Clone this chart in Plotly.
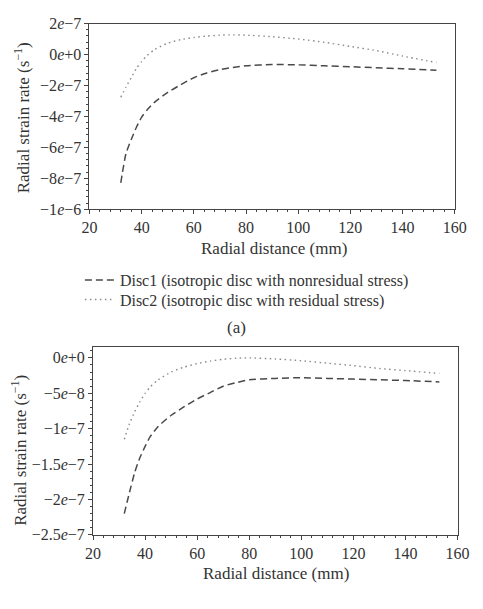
import plotly.graph_objects as go

# ---------------- data ----------------
radius_mm = [32, 34, 36, 38, 40, 42, 45, 50, 55, 60, 65, 70, 75, 80, 90, 100, 110, 120, 130, 140, 153]

a_disc1 = [-8.29e-7, -6.4e-7, -5.5e-7, -4.7e-7, -4.05e-7, -3.6e-7, -3.08e-7, -2.45e-7, -1.95e-7,
           -1.5e-7, -1.19e-7, -9.8e-8, -8.4e-8, -7.3e-8, -6.5e-8, -6.7e-8, -7.3e-8, -7.9e-8,
           -8.6e-8, -9.2e-8, -1.02e-7]
a_disc2 = [-2.76e-7, -2.1e-7, -1.5e-7, -9.0e-8, -4.5e-8, -8e-9, 3.2e-8, 7.3e-8, 9.6e-8,
           1.1e-7, 1.19e-7, 1.25e-7, 1.27e-7, 1.25e-7, 1.15e-7, 1.0e-7, 7.9e-8, 5.2e-8,
           2.5e-8, -1.0e-8, -5.2e-8]

b_disc1 = [-2.2e-7, -1.9e-7, -1.62e-7, -1.41e-7, -1.25e-7, -1.11e-7, -9.7e-8, -8.1e-8, -6.9e-8,
           -5.8e-8, -4.9e-8, -4.0e-8, -3.5e-8, -3.1e-8, -2.9e-8, -2.8e-8, -2.9e-8, -3.0e-8,
           -3.1e-8, -3.2e-8, -3.4e-8]
b_disc2 = [-1.15e-7, -9.3e-8, -7.6e-8, -6.2e-8, -5.0e-8, -4.1e-8, -3.1e-8, -2.0e-8, -1.3e-8,
           -8e-9, -4.5e-9, -2e-9, -5e-10, 0.0, -1.5e-9, -4e-9, -7.5e-9, -1.1e-8,
           -1.5e-8, -1.8e-8, -2.2e-8]

series_names = ["Disc1 (isotropic disc with nonresidual stress)",
                "Disc2 (isotropic disc with residual stress)"]

x_ticks = [20, 40, 60, 80, 100, 120, 140, 160]
a_yticks = [2e-7, 0, -2e-7, -4e-7, -6e-7, -8e-7, -1e-6]
a_ylabels = ["2<i>e</i>−7", "0<i>e</i>+0", "−2<i>e</i>−7", "−4<i>e</i>−7", "−6<i>e</i>−7",
             "−8<i>e</i>−7", "−1<i>e</i>−6"]
b_yticks = [0, -5e-8, -1e-7, -1.5e-7, -2e-7, -2.5e-7]
b_ylabels = ["0<i>e</i>+0", "−5<i>e</i>−8", "−1<i>e</i>−7", "−1.5<i>e</i>−7", "−2<i>e</i>−7",
             "−2.5<i>e</i>−7"]

# ---------------- figure ----------------
W, H = 483, 609
FONT = "Liberation Serif"
TXT = "#333333"
AX = "#444444"

dash1 = dict(color="#4a4a4a", width=1.5, dash="7px,4px", shape="spline", smoothing=0.6)
dash2 = dict(color="#8a8a8a", width=1.4, dash="1.5px,3.5px", shape="spline", smoothing=0.6)

fig = go.Figure()
fig.add_trace(go.Scatter(x=radius_mm, y=a_disc1, mode="lines", line=dash1, name=series_names[0],
                         xaxis="x", yaxis="y", legend="legend"))
fig.add_trace(go.Scatter(x=radius_mm, y=a_disc2, mode="lines", line=dash2, name=series_names[1],
                         xaxis="x", yaxis="y", legend="legend2"))
fig.add_trace(go.Scatter(x=radius_mm, y=b_disc1, mode="lines", line=dash1, name=series_names[0],
                         xaxis="x2", yaxis="y2", showlegend=False))
fig.add_trace(go.Scatter(x=radius_mm, y=b_disc2, mode="lines", line=dash2, name=series_names[1],
                         xaxis="x2", yaxis="y2", showlegend=False))


def xax(domain, anchor):
    return dict(domain=domain, anchor=anchor, range=[20, 160], tickvals=x_ticks,
                ticks="outside", ticklen=4, tickcolor=AX, showline=True, linecolor=AX,
                linewidth=1, mirror=True, showgrid=False, zeroline=False,
                tickfont=dict(family=FONT, size=16, color=TXT),
                minor=dict(dtick=4, ticks="outside", ticklen=2, tickcolor=AX, showgrid=False))


def yax(domain, anchor, rng, vals, labels, mdt):
    return dict(domain=domain, anchor=anchor, range=rng, tickvals=vals, ticktext=labels,
                ticks="outside", ticklen=4, tickcolor=AX, showline=True, linecolor=AX,
                linewidth=1, mirror=True, showgrid=False, zeroline=False,
                tickfont=dict(family=FONT, size=16, color=TXT),
                minor=dict(dtick=mdt, ticks="outside", ticklen=2, tickcolor=AX, showgrid=False))


def px(v):
    return v / W


def py(v):
    return 1 - v / H


legend_style = dict(xanchor="left", yanchor="middle", bgcolor="rgba(0,0,0,0)",
                    font=dict(family=FONT, size=16, color=TXT), itemwidth=30)

fig.update_layout(
    width=W, height=H, margin=dict(l=0, r=0, t=0, b=0),
    paper_bgcolor="white", plot_bgcolor="white",
    font=dict(family=FONT, size=16, color=TXT),
    xaxis=xax([px(85), px(466)], "y"),
    yaxis=yax([py(207), py(16)], "x", [-1e-6, 2e-7], a_yticks, a_ylabels, 4e-8),
    xaxis2=xax([px(88.7), px(469)], "y2"),
    yaxis2=yax([py(542), py(349)], "x2", [-2.5e-7, 1.5e-8], b_yticks, b_ylabels, 1e-8),
    legend=dict(x=px(75), y=py(280), **legend_style),
    legend2=dict(x=px(75), y=py(300), **legend_style),
)

ann = [
    dict(text="Radial strain rate (s<sup>−1</sup>)", x=px(14), y=py(113), textangle=-90),
    dict(text="Radial distance (mm)", x=px(278), y=py(247)),
    dict(text="(a)", x=px(238), y=py(329)),
    dict(text="Radial strain rate (s<sup>−1</sup>)", x=px(12), y=py(455), textangle=-90),
    dict(text="Radial distance (mm)", x=px(280), y=py(582)),
]
for a in ann:
    fig.add_annotation(xref="paper", yref="paper", showarrow=False, xanchor="center",
                       yanchor="middle", font=dict(family=FONT, size=17, color=TXT), **a)

fig.write_html("out.html")
